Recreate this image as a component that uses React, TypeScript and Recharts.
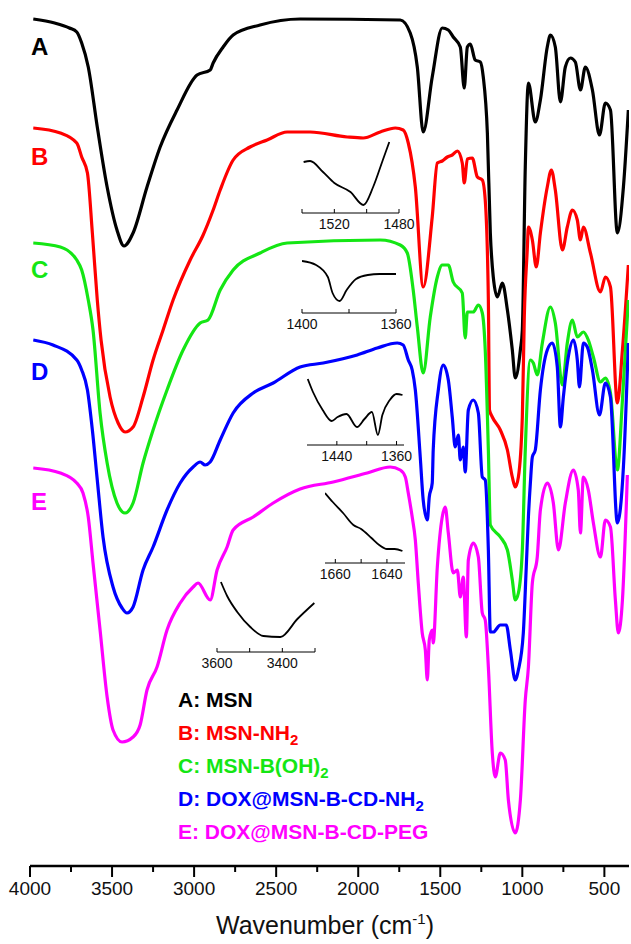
import React from 'react'
import { LineChart, Line, XAxis, YAxis } from 'recharts'

const FONT = '"Liberation Sans", Arial, Helvetica, sans-serif'

// FTIR spectra: [wavenumber (cm-1), transmittance (a.u., stacked offset)]
const specA: [number, number][] = [
  [3980, 847], [3850, 843], [3760, 838], [3715, 834], [3685, 823], [3645, 799], [3590, 739], [3530, 679], [3470, 636],
  [3427, 620], [3372, 633], [3287, 679], [3207, 719], [3104, 756], [2982, 791], [2902, 796],
  [2884, 803], [2823, 819], [2762, 831], [2598, 841], [2354, 847], [1744, 846], [1683, 833],
  [1640, 799], [1604, 734], [1549, 789], [1488, 838], [1451, 836], [1421, 829], [1378, 819],
  [1354, 778], [1335, 819], [1317, 822], [1287, 806], [1256, 804], [1238, 789], [1213, 733],
  [1195, 633], [1177, 589], [1152, 569], [1122, 583], [1091, 556], [1061, 516], [1043, 488],
  [1012, 516], [1000, 536], [982, 699], [963, 783], [921, 744], [890, 766], [848, 819],
  [829, 831], [799, 819], [768, 764], [738, 799], [707, 808], [677, 804], [646, 776],
  [616, 799], [573, 776], [530, 731], [494, 763], [463, 756], [421, 633], [384, 679], [354, 756],
]

const specB: [number, number][] = [
  [3980, 738], [3815, 733], [3715, 723], [3685, 709], [3650, 693], [3620, 633], [3590, 566],
  [3567, 526], [3512, 469], [3463, 443], [3421, 434], [3372, 439], [3311, 469], [3250, 506],
  [3189, 536], [3128, 566], [3024, 606], [2945, 631], [2884, 656], [2841, 676], [2762, 706],
  [2659, 719], [2555, 726], [2433, 734], [2293, 734], [2067, 729], [1970, 728], [1866, 734],
  [1774, 738], [1726, 736], [1695, 723], [1652, 679], [1604, 579], [1549, 649], [1518, 703],
  [1488, 705], [1457, 709], [1427, 711], [1396, 715], [1366, 703], [1354, 683], [1335, 707],
  [1305, 708], [1274, 689], [1244, 686], [1226, 666], [1207, 566], [1200, 456], [1183, 449],
  [1134, 436], [1091, 416], [1061, 389], [1043, 379], [1024, 389], [1000, 449], [988, 549],
  [970, 616], [963, 639], [939, 626], [915, 599], [890, 633], [848, 679], [823, 696],
  [799, 676], [756, 616], [726, 639], [695, 656], [665, 646], [646, 626], [628, 639],
  [585, 613], [524, 574], [494, 589], [463, 579], [421, 463], [390, 516], [354, 601],
]

const specC: [number, number][] = [
  [3980, 623], [3815, 619], [3715, 606], [3685, 596], [3645, 566], [3616, 536], [3573, 453],
  [3530, 403], [3470, 363], [3421, 353], [3372, 363], [3311, 403], [3250, 436], [3165, 476],
  [3067, 516], [2963, 543], [2915, 546], [2841, 576], [2762, 596], [2598, 613], [2433, 623],
  [1866, 626], [1744, 621], [1701, 613], [1665, 576], [1640, 539], [1604, 493], [1561, 549],
  [1518, 589], [1488, 601], [1451, 601], [1421, 584], [1366, 573], [1348, 528], [1335, 554],
  [1299, 554], [1268, 561], [1244, 553], [1226, 516], [1207, 416], [1195, 341], [1134, 329],
  [1091, 316], [1061, 286], [1043, 266], [1024, 273], [1000, 316], [982, 416], [951, 506],
  [933, 503], [909, 491], [878, 523], [829, 559], [799, 543], [756, 481], [726, 523],
  [695, 546], [665, 529], [628, 534], [598, 526], [567, 509], [524, 484], [494, 488],
  [463, 473], [421, 396], [390, 466], [354, 566],
]

const specD: [number, number][] = [
  [3980, 526], [3860, 521], [3715, 506], [3685, 496], [3650, 476], [3620, 436], [3590, 386],
  [3555, 329], [3494, 279], [3439, 258], [3409, 253], [3372, 259], [3311, 296], [3250, 319],
  [3165, 356], [3085, 383], [3006, 399], [2963, 404], [2933, 401], [2902, 404], [2841, 426],
  [2762, 453], [2640, 473], [2518, 483], [2354, 499], [2213, 503], [2006, 511], [1884, 518],
  [1762, 523], [1726, 521], [1695, 506], [1671, 496], [1652, 476], [1622, 409], [1604, 366],
  [1579, 346], [1567, 369], [1549, 383], [1543, 416], [1512, 476], [1482, 501], [1451, 486],
  [1427, 449], [1409, 419], [1390, 431], [1378, 406], [1360, 419], [1348, 394], [1329, 456],
  [1299, 466], [1268, 453], [1244, 389], [1226, 386], [1207, 316], [1195, 234], [1177, 234],
  [1134, 241], [1098, 241], [1073, 216], [1043, 186], [1024, 196], [994, 233], [976, 299],
  [963, 349], [951, 383], [939, 409], [921, 416], [890, 476], [848, 516], [817, 523],
  [787, 499], [768, 439], [750, 469], [720, 509], [689, 526], [665, 506], [652, 479],
  [628, 523], [604, 519], [573, 496], [530, 451], [494, 483], [463, 469], [421, 343],
  [384, 399], [354, 523],
]

const specE: [number, number][] = [
  [3980, 398], [3815, 393], [3715, 383], [3677, 373], [3645, 349], [3616, 303], [3573, 236],
  [3530, 169], [3494, 136], [3439, 124], [3372, 129], [3329, 141], [3287, 176], [3226, 199],
  [3165, 236], [3085, 263], [3006, 279], [2976, 283], [2902, 266], [2860, 296], [2799, 319],
  [2762, 336], [2640, 349], [2518, 363], [2354, 377], [2152, 384], [1945, 393], [1805, 399],
  [1744, 396], [1713, 389], [1695, 373], [1671, 349], [1652, 326], [1634, 283], [1610, 233],
  [1591, 216], [1579, 186], [1567, 226], [1549, 236], [1543, 223], [1518, 299], [1488, 349],
  [1470, 359], [1451, 333], [1421, 293], [1396, 296], [1378, 269], [1360, 289], [1341, 229],
  [1329, 306], [1299, 323], [1268, 309], [1244, 253], [1226, 246], [1207, 199], [1183, 113],
  [1165, 89], [1134, 113], [1104, 106], [1085, 66], [1043, 33], [1012, 66], [982, 166],
  [963, 199], [939, 283], [909, 309], [890, 356], [848, 383], [811, 363], [780, 316],
  [738, 363], [689, 396], [659, 376], [646, 333], [628, 389], [598, 376], [567, 343],
  [524, 309], [494, 346], [463, 339], [433, 266], [415, 233], [390, 266], [360, 391],
]

// inset close-ups: [wavenumber, transmittance (a.u.)]
const inset1520: [number, number][] = [
  [1539, 51], [1535, 52], [1527, 41], [1520, 30], [1510, 21], [1502, 8], [1496, 26], [1490, 53], [1486, 71],
]
const inset1380: [number, number][] = [
  [1400, 52], [1394, 48], [1389, 36], [1387, 20], [1384, 12], [1381, 23], [1377, 34], [1372, 38], [1367, 39], [1360, 39],
]
const inset1440: [number, number][] = [
  [1479, 66], [1472, 53], [1459, 35], [1447, 24], [1439, 28], [1427, 31], [1413, 18], [1403, 26],
  [1393, 33], [1385, 10], [1379, 30], [1369, 45], [1360, 51], [1352, 50],
]
const inset1650: [number, number][] = [
  [1664, 70], [1661, 61], [1657, 50], [1653, 38], [1650, 34], [1646, 25], [1643, 18], [1640, 14], [1637, 14], [1634, 12],
]
const inset3400: [number, number][] = [
  [3588, 70], [3569, 56], [3538, 40], [3498, 25], [3458, 16], [3406, 15], [3354, 33], [3302, 49],
]

const mainTicks = [4000, 3750, 3500, 3250, 3000, 2750, 2500, 2250, 2000, 1750, 1500, 1250, 1000, 750, 500]

const series = [
  { id: 'A', spec: specA, color: '#000000', legend: 'A: MSN', sub: '' },
  { id: 'B', spec: specB, color: '#ff0000', legend: 'B: MSN-NH', sub: '2' },
  { id: 'C', spec: specC, color: '#14e614', legend: 'C: MSN-B(OH)', sub: '2' },
  { id: 'D', spec: specD, color: '#0000ff', legend: 'D: DOX@MSN-B-CD-NH', sub: '2' },
  { id: 'E', spec: specE, color: '#ff00ff', legend: 'E: DOX@MSN-B-CD-PEG', sub: '' },
]

const toRows = (s: [number, number][]) => s.map(([w, t]) => ({ w, t }))

const MainTick = (props: any) => {
  const { x, y, payload } = props
  const major = payload.value % 500 === 0
  return (
    <g>
      <line x1={x} y1={y} x2={x} y2={y + (major ? 11 : 6)} stroke="#000" strokeWidth={2} />
      {major && (
        <text x={x} y={y + 29} textAnchor="middle" fontSize={19} fontFamily={FONT} fill="#111">
          {payload.value}
        </text>
      )}
    </g>
  )
}

const InsetTick = (props: any) => {
  const { x, y, payload, labels } = props
  const shown = labels.includes(payload.value)
  return (
    <g>
      <line x1={x} y1={y} x2={x} y2={y - 4} stroke="#000" strokeWidth={1} />
      {shown && (
        <text x={x} y={y + 16} textAnchor="middle" fontSize={14} fontFamily={FONT} fill="#111">
          {payload.value}
        </text>
      )}
    </g>
  )
}

function Inset({ left, axisY, axisW, plotH, domain, ticks, labels, spec }: any) {
  const pad = 24
  return (
    <div style={{ position: 'absolute', left: left - pad, top: axisY - plotH }}>
      <LineChart width={axisW + pad * 2} height={plotH + 22} margin={{ top: 0, right: pad, bottom: 0, left: pad }}>
        <XAxis
          type="number"
          dataKey="w"
          domain={domain}
          reversed
          allowDataOverflow
          ticks={ticks}
          interval={0}
          tick={<InsetTick labels={labels} />}
          tickLine={false}
          tickSize={0}
          tickMargin={0}
          height={22}
          axisLine={{ stroke: '#000', strokeWidth: 1 }}
        />
        <YAxis hide type="number" domain={[0, plotH]} allowDataOverflow />
        <Line type="monotone" data={toRows(spec)} dataKey="t" stroke="#000" strokeWidth={1.8} dot={false} isAnimationActive={false} />
      </LineChart>
    </div>
  )
}

export default function App() {
  return (
    <div style={{ position: 'absolute', left: 0, top: 0, width: 631, height: 944, background: '#fff' }}>
      <LineChart width={631} height={944} margin={{ top: 0, right: 2, bottom: 0, left: 30 }}>
        <XAxis
          type="number"
          dataKey="w"
          domain={[350, 4000]}
          reversed
          allowDataOverflow
          ticks={mainTicks}
          interval={0}
          tick={<MainTick />}
          tickLine={false}
          tickSize={0}
          tickMargin={0}
          height={78}
          axisLine={{ stroke: '#000', strokeWidth: 2.5 }}
        />
        <YAxis hide type="number" domain={[0, 866]} allowDataOverflow />
        {series.map((s) => (
          <Line
            key={s.id}
            type="monotone"
            data={toRows(s.spec)}
            dataKey="t"
            stroke={s.color}
            strokeWidth={3.2}
            strokeLinejoin="round"
            dot={false}
            isAnimationActive={false}
          />
        ))}
      </LineChart>

      <Inset left={302} axisY={213} axisW={97} plotH={80} domain={[1480, 1540]} ticks={[1540, 1520, 1500, 1480]} labels={[1520, 1480]} spec={inset1520} />
      <Inset left={302} axisY={313} axisW={94} plotH={60} domain={[1360, 1400]} ticks={[1400, 1380, 1360]} labels={[1400, 1360]} spec={inset1380} />
      <Inset left={307} axisY={445} axisW={97} plotH={75} domain={[1350, 1480]} ticks={[1440, 1400, 1360]} labels={[1440, 1360]} spec={inset1440} />
      <Inset left={325} axisY={563} axisW={80} plotH={75} domain={[1633, 1664]} ticks={[1660, 1650, 1640]} labels={[1660, 1640]} spec={inset1650} />
      <Inset left={217} axisY={652} axisW={98} plotH={75} domain={[3300, 3600]} ticks={[3600, 3500, 3400, 3300]} labels={[3600, 3400]} spec={inset3400} />

      <svg width={631} height={944} style={{ position: 'absolute', left: 0, top: 0, pointerEvents: 'none' }}>
        {series.map((s, i) => (
          <text key={s.id} x={31} y={[55, 165, 278, 380, 510][i]} fontSize={24} fontWeight="bold" fontFamily={FONT} fill={s.color}>
            {s.id}
          </text>
        ))}
        {series.map((s, i) => (
          <text key={'lg' + s.id} x={178} y={707 + i * 33} fontSize={21} fontWeight="bold" fontFamily={FONT} fill={s.color}>
            {s.legend}
            {s.sub && (
              <tspan dy={5} fontSize={15}>
                {s.sub}
              </tspan>
            )}
          </text>
        ))}
        <text x={325} y={934} textAnchor="middle" fontSize={25} fontFamily={FONT} fill="#111">
          Wavenumber (cm
          <tspan dy={-10} fontSize={15}>
            -1
          </tspan>
          <tspan dy={10}>)</tspan>
        </text>
      </svg>
    </div>
  )
}
